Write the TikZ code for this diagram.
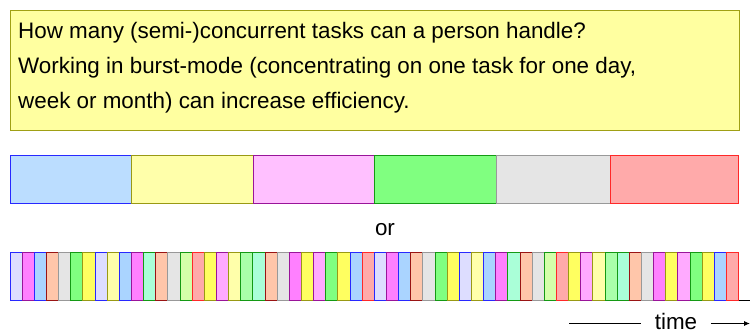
\documentclass[tikz,border=0pt]{standalone}
\usepackage{fontspec}
\setmainfont{Liberation Sans}
\usetikzlibrary{arrows.meta}
% fills
\definecolor{flav}{RGB}{221,221,255}
\definecolor{fmag}{RGB}{255,128,255}
\definecolor{flbl}{RGB}{170,212,255}
\definecolor{fpch}{RGB}{255,198,170}
\definecolor{fgry}{RGB}{229,229,229}
\definecolor{fgrn}{RGB}{128,255,128}
\definecolor{fyel}{RGB}{255,255,96}
\definecolor{flye}{RGB}{255,255,170}
\definecolor{fmnt}{RGB}{170,255,216}
\definecolor{flim}{RGB}{212,255,170}
\definecolor{fsal}{RGB}{255,170,170}
\definecolor{fpnk}{RGB}{255,170,255}
\definecolor{flgr}{RGB}{170,255,170}
% borders
\definecolor{dlav}{RGB}{40,40,255}
\definecolor{dmag}{RGB}{153,20,153}
\definecolor{dlbl}{RGB}{40,40,255}
\definecolor{dpch}{RGB}{153,20,20}
\definecolor{dgry}{RGB}{153,153,153}
\definecolor{dgrn}{RGB}{20,153,20}
\definecolor{dyel}{RGB}{153,153,20}
\definecolor{dlye}{RGB}{153,153,20}
\definecolor{dmnt}{RGB}{20,153,20}
\definecolor{dlim}{RGB}{20,153,20}
\definecolor{dsal}{RGB}{255,40,40}
\definecolor{dpnk}{RGB}{153,20,153}
\definecolor{dlgr}{RGB}{20,153,20}
% top row
\definecolor{tlbl}{RGB}{187,221,255}
\definecolor{tpnk}{RGB}{255,192,255}
\definecolor{boxfill}{RGB}{255,255,160}
\definecolor{boxdraw}{RGB}{160,160,20}
\tikzset{
  txt/.style={font=\fontsize{22.4}{34.8}\selectfont, text=black, inner sep=0pt},
  block/.style={line width=1pt},
}
\begin{document}
\begin{tikzpicture}[x=1pt,y=-1pt]
\useasboundingbox (0,0) rectangle (750,333);
% question box
\node (box) [draw=boxdraw, fill=boxfill, line width=1pt, anchor=north west,
  minimum width=729pt, minimum height=120.5pt, inner sep=0pt] at (10,9.5) {};
\node (q1) [txt, anchor=base west] at (18,38.7)
  {How many (semi-)concurrent tasks can a person handle?};
\node (q2) [txt, anchor=base west] at (18,73.7)
  {Working in burst-mode (concentrating on one task for one day,};
\node (q3) [txt, anchor=base west] at (18,108.5)
  {week or month) can increase efficiency.};
% top row: six long blocks
\draw[block, fill=tlbl, draw=dlbl] (10,155) rectangle (131.5,203.3);
\draw[block, fill=flye, draw=dlye] (131.5,155) rectangle (253,203.3);
\draw[block, fill=tpnk, draw=dmag] (253,155) rectangle (374.5,203.3);
\draw[block, fill=fgrn, draw=dgrn] (374.5,155) rectangle (496,203.3);
\draw[block, fill=fgry, draw=dgry] (496,155) rectangle (610,203.3);
\draw[block, fill=fsal, draw=dsal] (610,155) rectangle (738.7,203.3);
% or
\node (or) [txt, anchor=base] at (385,235) {or};
% bottom row: 60 short slices
\foreach [count=\i from 0] \c in {lav,mag,lbl,pch,gry,grn,yel,lav,lye,lbl,
  mag,mnt,pch,gry,lim,sal,yel,pnk,lye,lgr,
  mnt,pch,gry,mag,yel,pnk,grn,yel,lbl,sal,
  lav,mag,lbl,pch,gry,grn,yel,lav,lye,lbl,
  mag,mnt,pch,gry,lim,sal,yel,pnk,lye,lgr,
  mnt,pch,gry,mag,yel,pnk,grn,yel,lbl,sal}
{
  \draw[block, fill=f\c, draw=d\c] ({10+\i*12.145},252) rectangle ({10+(\i+1)*12.145},300.5);
}
\coordinate (rowend) at (738.7,300.5);
\coordinate (edge) at (750,300.5);
\draw[line width=1pt] (rowend) -- (edge);
% time arrow
\node (time) [txt, anchor=base, inner xsep=13.5pt] at (676,329.6) {time};
\coordinate (tstart) at (569,323.5);
\coordinate (tend) at (750,323.5);
\draw[line width=0.9pt] (tstart) -- (tstart -| time.west);
\draw[line width=0.9pt, -{Latex[length=6pt,width=5pt]}] (tend -| time.east) -- (tend);
\end{tikzpicture}
\end{document}
